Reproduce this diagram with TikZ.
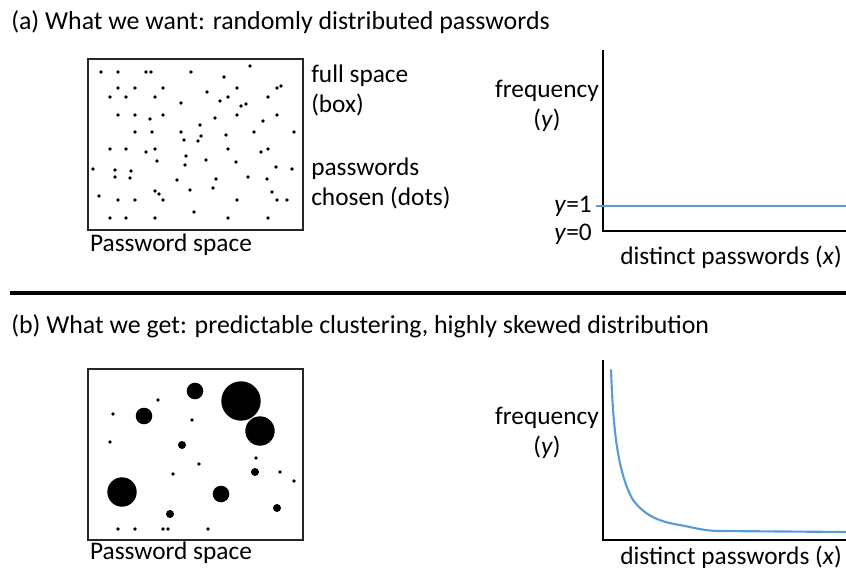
\documentclass[tikz,border=0pt]{standalone}
\usepackage{fontspec}
\setmainfont{Carlito}
\usepackage{xcolor}
\definecolor{curveblue}{RGB}{91,155,213}

\tikzset{
  lbl/.style={inner sep=0pt, font=\fontsize{19}{22.5}\selectfont},
  head/.style={inner sep=0pt, font=\fontsize{19.4}{22.5}\selectfont},
  spacebox/.style={draw=black!85, line width=1pt},
  axis/.style={draw=black, line width=1.3pt},
  freq/.style={draw=curveblue, line width=1.6pt, line cap=round},
  dot/.style={fill=black}
}

\begin{document}
\begin{tikzpicture}[x=0.75pt,y=-0.75pt]

    \useasboundingbox (0,0) rectangle (846,570);

    % (a) randomly distributed
    \node[head, anchor=west] (titleA) at (11,22) {(a) What we want: randomly distributed passwords};

    \node[spacebox, minimum width=161.25pt, minimum height=128.25pt, inner sep=0pt] (boxA) at (195.5,144.5) {};
    \foreach \px/\py in {101/72,118/72,146/72,151/72,191/72,250/66,224/77,
        118/88,135/88,163/88,237/88,277/88,281/86,110/97,126/97,155/97,207/92,228/97,268/97,
        181/103,220/101,241/106,246/104,118/115,135/115,163/115,150/119,215/118,237/115,277/115,
        263/121,200/125,135/132,152/132,181/132,184/140,201/136,198/141,226/135,254/132,294/132,
        110/149,126/149,155/149,146/152,186/156,228/149,268/149,261/152,157/161,185/165,206/160,
        236/162,276/167,292/169,93/169,115/170,131/171,115/177,130/178,177/180,216/179,248/177,
        267/179,190/190,213/188,155/191,159/194,272/192,99/196,118/200,135/200,163/200,237/200,
        277/200,287/200,194/212,110/218,126/218,155/218,228/218,268/218}
      \fill[dot] (\px,\py) circle (1.35pt);

    \node[lbl, anchor=west, align=left] (fullA) at (311,90) {full space\\(box)};
    \node[lbl, anchor=west, align=left] (chosenA) at (311,183) {passwords\\chosen (dots)};
    \node[lbl] (spaceA) at (171,245) {Password space};

    \coordinate (topA) at (603,50);
    \coordinate (origA) at (603,231);
    \coordinate (endA) at (846,231);
    \draw[axis] (topA) -- (origA) -- (endA);

    \node[lbl, align=center] (freqA) at (547,106) {frequency\\(\textit{y})};
    \node[lbl, anchor=east] (oneA) at (592,206) {\textit{y}=1};
    \node[lbl, anchor=east] (zeroA) at (592,234) {\textit{y}=0};
    \node[lbl] (distA) at (731,257) {distinct passwords (\textit{x})};

    \coordinate (flatL) at (596,206);
    \coordinate (flatR) at (846,206);
    \draw[freq, line cap=butt] (flatL) -- (flatR);

    % separator
    \coordinate (sepL) at (10,293);
    \coordinate (sepR) at (846,293);
    \draw[line width=2.4pt] (sepL) -- (sepR);

    % (b) clustered
    \node[head, anchor=west] (titleB) at (11,326) {(b) What we get: predictable clustering, highly skewed distribution};

    \node[spacebox, minimum width=161.25pt, minimum height=128.25pt, inner sep=0pt] (boxB) at (195.5,454.5) {};
    \foreach \px/\py/\r in {195/391/8.3,241/401/19.7,260/431/14.7,144/416/8.3,122/492/14.7,221/494/8.3,
        182/445/4,255/472/4,277/508/4,170/514/4,
        158/400/1.8,113/414/1.8,192/420/1.8,110/442/1.8,256/458/1.8,199/464/1.8,173/474/1.8,
        280/472/1.8,294/481/1.8,118/529/1.8,135/529/1.8,163/529/1.8,168/529/1.8,208/529/1.8}
      \fill[dot] (\px,\py) circle (\r*0.75pt);

    \node[lbl] (spaceB) at (171,553) {Password space};

    \coordinate (topB) at (603,360);
    \coordinate (origB) at (603,540);
    \coordinate (endB) at (846,540);
    \draw[axis] (topB) -- (origB) -- (endB);

    \node[lbl, align=center] (freqB) at (547,433) {frequency\\(\textit{y})};
    \node[lbl] (distB) at (731,557) {distinct passwords (\textit{x})};

    \coordinate (headB) at (611,370);
    \coordinate (tailB) at (846,532);
    \draw[freq] (headB) .. controls (613,420) and (616,470) .. (633,500)
      .. controls (645,516) and (660,522) .. (680,525)
      .. controls (695,528) and (705,531) .. (720,531)
      -- (tailB);

\end{tikzpicture}
\end{document}
